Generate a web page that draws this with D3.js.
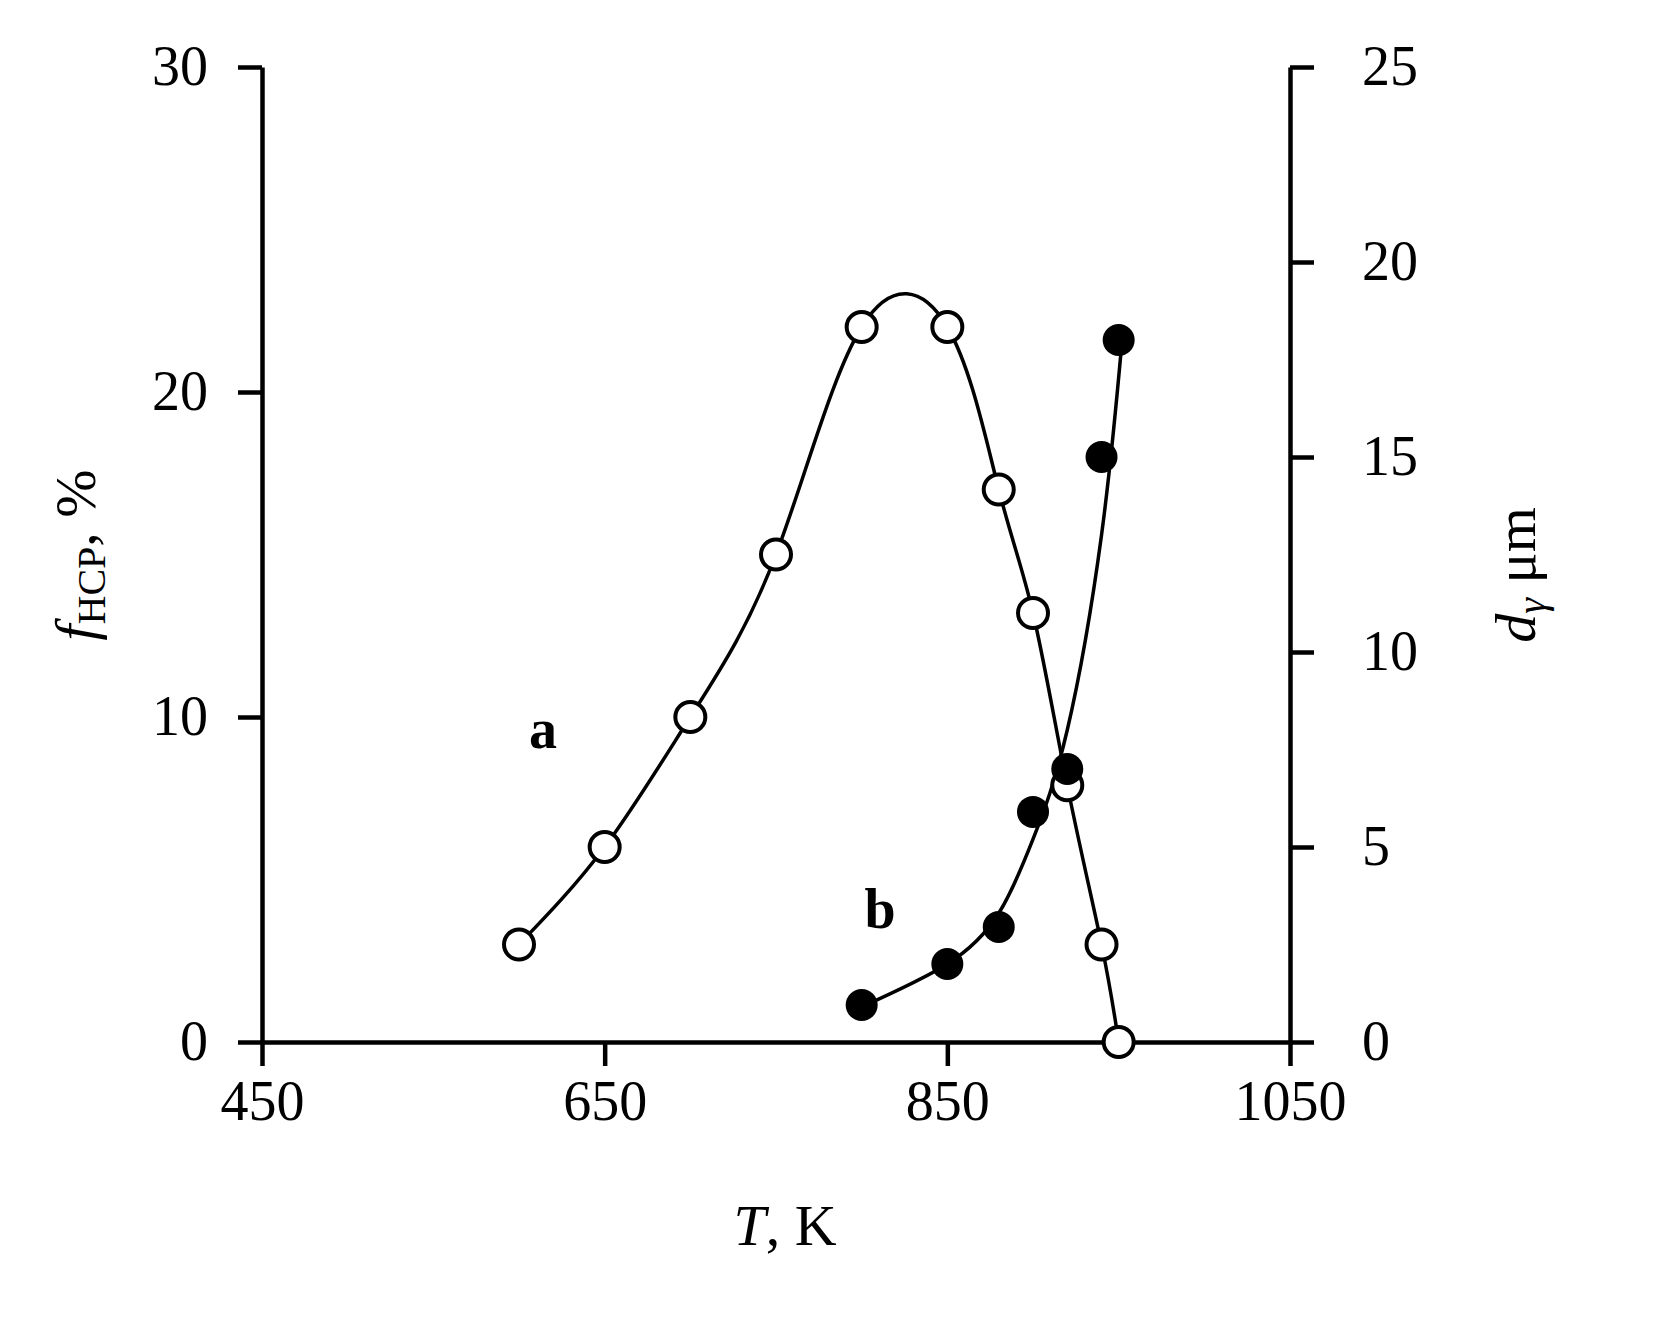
<!DOCTYPE html>
<html><head><meta charset="utf-8">
<script src="https://cdn.jsdelivr.net/npm/d3@7"></script>
<style>body{margin:0;background:#fff}</style>
</head><body>
<svg id="chart" width="1664" height="1342"></svg>
<script>
// f_HCP (%) vs T (open circles, curve a)
const tempA = [600, 650, 700, 750, 800, 850, 880, 900, 920, 940, 950];
const fHCP = [3, 6, 10, 15, 22, 22, 17, 13.2, 7.9, 3, 0];
// grain size d (um) vs T (filled circles, curve b)
const tempB = [800, 850, 880, 900, 920, 940, 950];
const dGrain = [0.95, 2.0, 2.95, 5.9, 7.0, 15.0, 18.0];
// fitted trend line for b
const fitT = [800, 850, 880, 900, 920, 940, 952];
const fitD = [0.9, 2.0, 3.3, 5.2, 8.0, 13.0, 18.0];
const xTicks = [450, 650, 850, 1050];
const yLeftTicks = [0, 10, 20, 30];
const yRightTicks = [0, 5, 10, 15, 20, 25];

const svg = d3.select("#chart");
const font = "'Liberation Serif', 'DejaVu Serif', serif";
const x = d3.scaleLinear().domain([450, 1050]).range([262, 1290]);
const yL = d3.scaleLinear().domain([0, 30]).range([1042, 67]);
const yR = d3.scaleLinear().domain([0, 25]).range([1042, 67]);

function style(g) {
    g.selectAll("path, line").attr("stroke", "#000").attr("stroke-width", 4.5);
    g.selectAll("text").attr("font-family", font).attr("font-size", 56).attr("fill", "#000");
}

svg.append("g").attr("transform", "translate(0,1042)")
    .call(d3.axisBottom(x).tickValues(xTicks).tickFormat(d3.format("d")).tickSize(24).tickSizeOuter(0).tickPadding(14))
    .call(style);
svg.append("g").attr("transform", "translate(262,0)")
    .call(d3.axisLeft(yL).tickValues(yLeftTicks).tickSize(24).tickSizeOuter(0).tickPadding(30))
    .call(style);
svg.append("g").attr("transform", "translate(1290,0)")
    .call(d3.axisRight(yR).tickValues(yRightTicks).tickSize(24).tickSizeOuter(0).tickPadding(48))
    .call(style);

const lineA = d3.line().x((d, i) => x(tempA[i])).y(d => yL(d)).curve(d3.curveNatural);
svg.append("path").attr("d", lineA(fHCP)).attr("fill", "none").attr("stroke", "#000").attr("stroke-width", 3.5);
const lineB = d3.line().x((d, i) => x(fitT[i])).y(d => yR(d)).curve(d3.curveNatural);
svg.append("path").attr("d", lineB(fitD)).attr("fill", "none").attr("stroke", "#000").attr("stroke-width", 3.5);

svg.selectAll(".ptA").data(fHCP).enter().append("circle")
    .attr("cx", (d, i) => x(tempA[i])).attr("cy", d => yL(d)).attr("r", 15)
    .attr("fill", "#fff").attr("stroke", "#000").attr("stroke-width", 4);
svg.selectAll(".ptB").data(dGrain).enter().append("circle")
    .attr("cx", (d, i) => x(tempB[i])).attr("cy", d => yR(d)).attr("r", 16)
    .attr("fill", "#000");

svg.append("text").attr("x", 543).attr("y", 748).attr("text-anchor", "middle")
    .attr("font-family", font).attr("font-size", 56).attr("font-weight", "bold").text("a");
svg.append("text").attr("x", 880).attr("y", 928).attr("text-anchor", "middle")
    .attr("font-family", font).attr("font-size", 56).attr("font-weight", "bold").text("b");

const xl = svg.append("text").attr("x", 785).attr("y", 1245).attr("text-anchor", "middle")
    .attr("font-family", font).attr("font-size", 58);
xl.append("tspan").attr("font-style", "italic").text("T");
xl.append("tspan").text(", K");

const yl = svg.append("text").attr("transform", "translate(95,555) rotate(-90)").attr("text-anchor", "middle")
    .attr("font-family", font).attr("font-size", 58);
yl.append("tspan").attr("font-style", "italic").text("f");
yl.append("tspan").attr("font-size", 40).attr("dy", 10).text("HCP");
yl.append("tspan").attr("dy", -10).text(", %");

const yr = svg.append("text").attr("transform", "translate(1535,575) rotate(-90)").attr("text-anchor", "middle")
    .attr("font-family", font).attr("font-size", 58);
yr.append("tspan").attr("font-style", "italic").text("d");
yr.append("tspan").attr("font-size", 40).attr("dy", 10).attr("font-style", "italic").text("γ");
yr.append("tspan").attr("dy", -10).text(" μm");
</script>
</body></html>
